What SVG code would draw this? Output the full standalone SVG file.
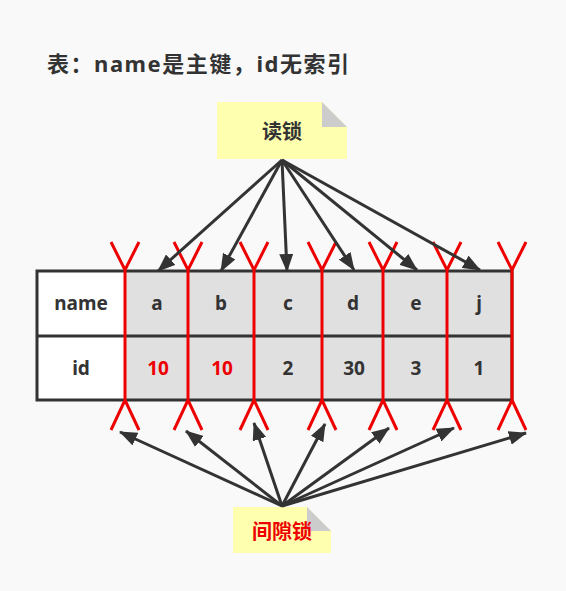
<svg xmlns="http://www.w3.org/2000/svg" width="566" height="591" viewBox="0 0 566 591">
<style>
text{font-family:"Noto Sans","Noto Sans CJK SC",sans-serif;font-weight:bold;fill:#333;}
.c{text-anchor:middle;font-size:19px;}
.n{text-anchor:middle;font-size:20px;}
.red{fill:#e00;}
.note{fill:#ffffb0;}
.fold{fill:#cccccc;}
.cell{fill:#e0e0e0;}
.hdr{fill:#ffffff;}
.arr{stroke:#333;stroke-width:3;fill:none;marker-end:url(#ah);}
.gap{stroke:#e00;stroke-width:3;fill:none;}
</style>
<defs>
<marker id="ah" viewBox="0 0 18 14" refX="17" refY="7" markerWidth="18" markerHeight="14" markerUnits="userSpaceOnUse" orient="auto">
<path d="M0,0 L18,7 L0,14 z" fill="#333"/>
</marker>
</defs>
<rect width="566" height="591" fill="#f9f9f9"/>
<text id="title" x="47" y="72" style="font-size:22px" textLength="302" lengthAdjust="spacing">表：name是主键，id无索引</text>

<g id="table">
<rect class="hdr" x="37" y="271" width="88" height="129"/>
<rect class="cell" x="125" y="271" width="387" height="129"/>
<rect x="37" y="271" width="475" height="129" fill="none" stroke="#333" stroke-width="3"/>
<line x1="37" y1="336" x2="512" y2="336" stroke="#333" stroke-width="3"/>
<text class="c" x="81" y="310">name</text>
<text class="c" x="81" y="375">id</text>
<text class="c" x="157" y="310">a</text>
<text class="c" x="221" y="310">b</text>
<text class="c" x="288" y="310">c</text>
<text class="c" x="353" y="310">d</text>
<text class="c" x="416" y="310">e</text>
<text class="c" x="479" y="310">j</text>
<text class="c red" x="158" y="375">10</text>
<text class="c red" x="222" y="375">10</text>
<text class="c" x="288" y="375">2</text>
<text class="c" x="354" y="375">30</text>
<text class="c" x="416" y="375">3</text>
<text class="c" x="479" y="375">1</text>
</g>

<g id="gaps">
<path class="gap" d="M111,242 L125,270 L139,242 M125,270 V400 M111,430 L125,400 L139,430"/>
<path class="gap" d="M174,242 L188,270 L202,242 M188,270 V400 M174,430 L188,400 L202,430"/>
<path class="gap" d="M240,242 L254,270 L268,242 M254,270 V400 M240,430 L254,400 L268,430"/>
<path class="gap" d="M308,242 L322,270 L336,242 M322,270 V400 M308,430 L322,400 L336,430"/>
<path class="gap" d="M369,242 L383,270 L397,242 M383,270 V400 M369,430 L383,400 L397,430"/>
<path class="gap" d="M433,242 L447,270 L461,242 M447,270 V400 M433,430 L447,400 L461,430"/>
<path class="gap" d="M498,242 L512,270 L526,242 M512,270 V400 M498,430 L512,400 L526,430"/>
</g>

<g id="readlock">
<path class="note" d="M217,102 H322 L347,127 V159 H217 Z"/>
<path class="fold" d="M322,102 L347,127 H322 Z"/>
<text class="n" x="282" y="139">读锁</text>
</g>

<g id="gaplock">
<path class="note" d="M233,507 H307 L331,531 V553 H233 Z"/>
<path class="fold" d="M307,507 L331,531 H307 Z"/>
<text class="n red" x="282" y="539">间隙锁</text>
</g>

<g id="connectors">
<line class="arr" x1="282" y1="160" x2="158" y2="271"/>
<line class="arr" x1="282" y1="160" x2="221" y2="271"/>
<line class="arr" x1="282" y1="160" x2="287" y2="271"/>
<line class="arr" x1="282" y1="160" x2="354" y2="270"/>
<line class="arr" x1="282" y1="160" x2="417" y2="270"/>
<line class="arr" x1="282" y1="160" x2="480" y2="270"/>
<line class="arr" x1="282" y1="506" x2="120" y2="432"/>
<line class="arr" x1="282" y1="506" x2="186" y2="431"/>
<line class="arr" x1="282" y1="506" x2="254" y2="423"/>
<line class="arr" x1="282" y1="506" x2="325" y2="424"/>
<line class="arr" x1="282" y1="506" x2="389" y2="428"/>
<line class="arr" x1="282" y1="506" x2="454" y2="428"/>
<line class="arr" x1="282" y1="506" x2="526" y2="433"/>
</g>
</svg>
